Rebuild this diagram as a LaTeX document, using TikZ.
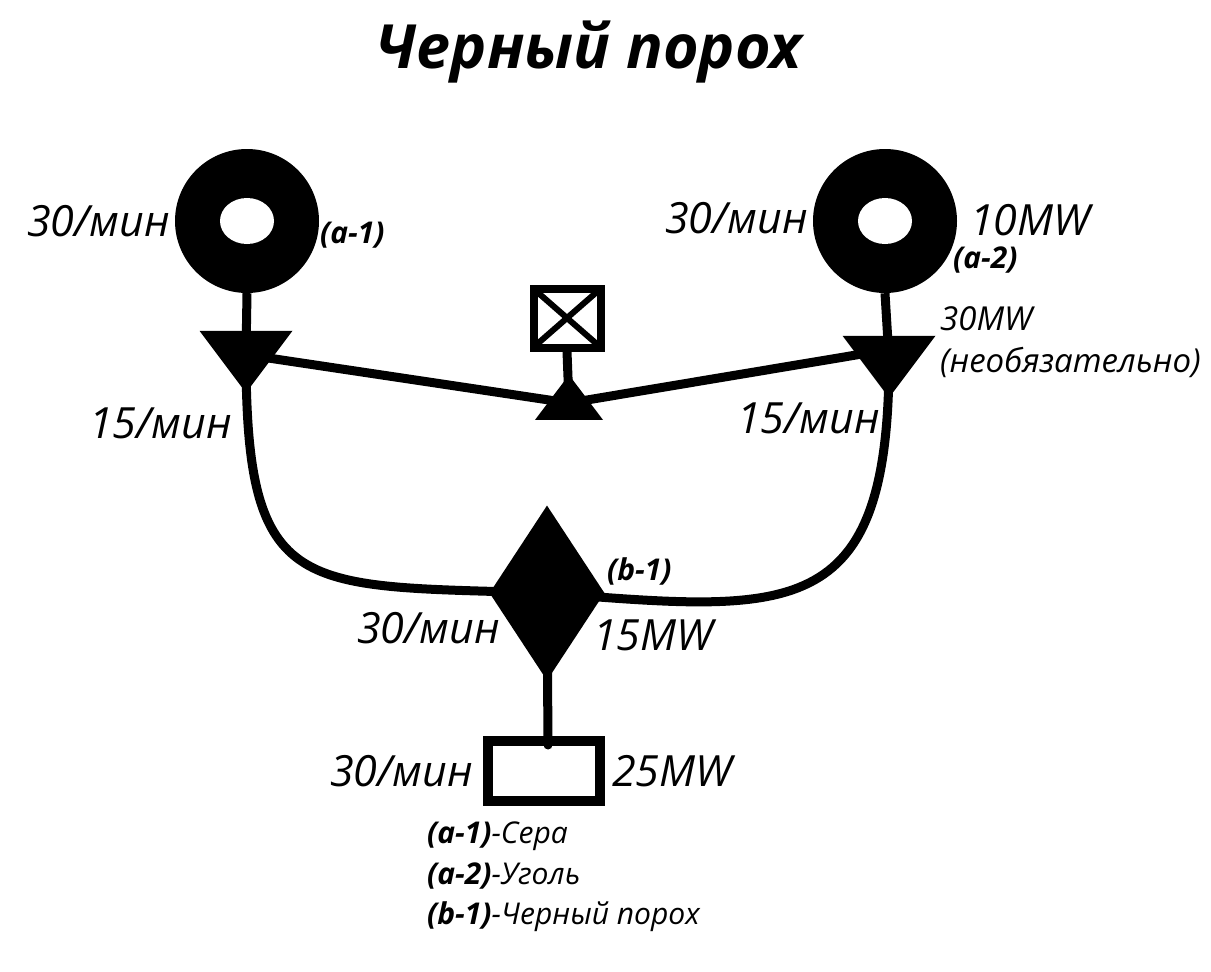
\documentclass[tikz,border=0pt]{standalone}
\usepackage{fontspec}
\setmainfont{Open Sans}
\usetikzlibrary{shapes.geometric}
\tikzset{
  wire/.style={line width=9pt},
  rate/.style={font=\fontsize{43}{48}\selectfont\itshape,inner sep=0pt},
  note/.style={font=\fontsize{33}{38}\selectfont\itshape,inner sep=0pt},
  tag/.style={font=\fontsize{30}{34}\selectfont\bfseries\itshape,inner sep=0pt},
  source/.style={circle,fill=black,minimum size=144pt,inner sep=0pt},
  splitter/.style={isosceles triangle,isosceles triangle apex angle=74,
    isosceles triangle stretches,fill=black,inner sep=0pt,
    minimum width=93pt,minimum height=62pt},
}
\newcommand\legtext[1]{\fontsize{30}{34}\selectfont\itshape #1}
\begin{document}
\begin{tikzpicture}[x=1pt,y=-1pt]
  \useasboundingbox (0,0) rectangle (1211,972);
  % title
  \node[font=\fontsize{61}{68}\selectfont\bfseries\itshape,inner sep=0pt,anchor=base]
    (title) at (589,68) {Черный порох};
  % sources
  \node[source] (srcA) at (247,221) {};
  \fill[white] (srcA.center) ellipse (27 and 23);
  \node[source] (srcB) at (885,221) {};
  \fill[white] (srcB.center) ellipse (27 and 23);
  % splitters
  \node[splitter,shape border rotate=-90] (splitA) at (246,354) {};
  \node[splitter,shape border rotate=-90] (splitB) at (889,359) {};
  \node[splitter,shape border rotate=90,minimum width=68pt,minimum height=45pt] (merge) at (569,403) {};
  % sink
  \node[draw,fill=white,line width=8pt,minimum width=67pt,minimum height=59pt,inner sep=0pt] (sink) at (567,318) {};
  \draw[line width=6pt] ([shift={(6,6)}]sink.north west) -- ([shift={(-6,-6)}]sink.south east)
    ([shift={(-6,6)}]sink.north east) -- ([shift={(6,-6)}]sink.south west);
  % mixer and output
  \node[diamond,fill=black,inner sep=0pt,minimum width=115pt,minimum height=175pt] (mixer) at (547,593) {};
  \node[draw,fill=white,line width=10pt,minimum width=112pt,minimum height=60pt,inner sep=0pt] (output) at (544,771) {};
  \coordinate (jA) at (255,356);
  \coordinate (jB) at (874,352);
  \coordinate (tap) at (548,745);
  % connectors
  \draw[wire] (srcA.south) -- (splitA.center);
  \draw[wire] (srcB.south) -- (splitB.center);
  \draw[wire] (jA) -- (merge.center) -- (jB);
  \draw[wire] (sink.south) -- (merge.center);
  \draw[wire] (splitA.center) .. controls (246,600) and (300,585) .. (mixer.center);
  \draw[wire] (splitB.center) .. controls (889,625) and (790,612) .. (mixer.center);
  \draw[wire,line cap=round] (mixer.center) -- (tap);
  % labels
  \node[rate,anchor=base east] (rateA) at (170,236) {30/мин};
  \node[tag,anchor=base west] (tagA) at (320,243) {(a-1)};
  \node[rate,anchor=base east] (rateB) at (808,233) {30/мин};
  \node[rate,anchor=base west] (powB) at (970,235) {10MW};
  \node[tag,anchor=base west] (tagB) at (953,268) {(a-2)};
  \node[note,anchor=base west] (powS) at (940,330) {30MW};
  \node[note,anchor=base west] (optS) at (940,372) {(необязательно)};
  \node[rate,anchor=base east] (rateSA) at (232,438) {15/мин};
  \node[rate,anchor=base east] (rateSB) at (880,433) {15/мин};
  \node[tag,anchor=base west] (tagM) at (607,580) {(b-1)};
  \node[rate,anchor=base east] (rateM) at (500,643) {30/мин};
  \node[rate,anchor=base west] (powM) at (593,650) {15MW};
  \node[rate,anchor=base east] (rateO) at (473,786) {30/мин};
  \node[rate,anchor=base west] (powO) at (612,786) {25MW};
  % legend
  \node[anchor=base west,inner sep=0pt] (legA) at (427,843)
    {\tikz[baseline]\node[tag,anchor=base]{(a-1)};\legtext{-Сера}};
  \node[anchor=base west,inner sep=0pt] (legB) at (427,884)
    {\tikz[baseline]\node[tag,anchor=base]{(a-2)};\legtext{-Уголь}};
  \node[anchor=base west,inner sep=0pt] (legC) at (427,924)
    {\tikz[baseline]\node[tag,anchor=base]{(b-1)};\legtext{-Черный порох}};
\end{tikzpicture}
\end{document}
